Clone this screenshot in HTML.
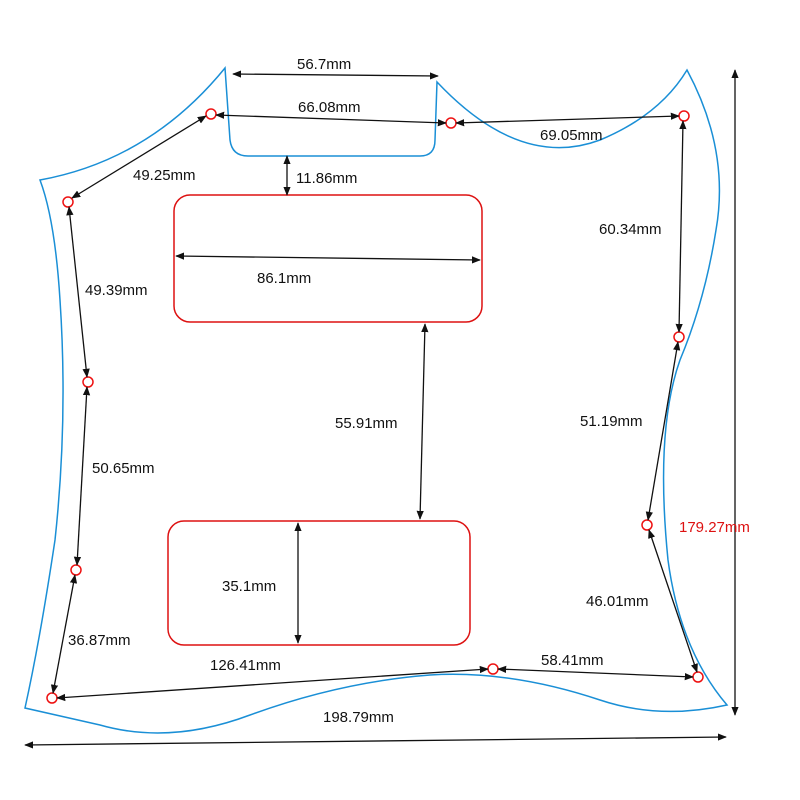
<!DOCTYPE html>
<html><head><meta charset="utf-8"><style>
html,body{margin:0;padding:0;background:#fff;}
svg{display:block;}
text{font-family:"Liberation Sans",Arial,sans-serif;font-size:15px;fill:#111;}
</style></head><body>
<svg width="800" height="800" viewBox="0 0 800 800" xmlns="http://www.w3.org/2000/svg">
<defs>
<marker id="a" viewBox="0 0 10 10" refX="9" refY="5" markerWidth="7" markerHeight="7" orient="auto-start-reverse"><path d="M0,1 L10,5 L0,9 z" fill="#111"/></marker>
</defs>
<path d="M40,180 Q150,160 225,68 L230,140 Q232,156 248,156 L420,156 Q435,156 435,140 L437,82 Q520,170 600,140 Q660,115 687,70 Q730,150 716,230 Q705,300 680,360 Q655,430 668,560 Q680,650 727,705 Q660,720 600,700 Q510,670 430,675 Q340,682 250,715 Q170,745 100,725 L25,708 Q40,640 55,540 Q68,420 60,300 Q55,220 40,180 Z" fill="none" stroke="#1a8fd6" stroke-width="1.5"/>
<rect x="174" y="195" width="308" height="127" rx="16" fill="none" stroke="#d11" stroke-width="1.5"/>
<rect x="168" y="521" width="302" height="124" rx="16" fill="none" stroke="#d11" stroke-width="1.5"/>
<g fill="none" stroke="#e11" stroke-width="1.5">
<circle cx="211" cy="114" r="5"/><circle cx="451" cy="123" r="5"/><circle cx="684" cy="116" r="5"/>
<circle cx="68" cy="202" r="5"/><circle cx="88" cy="382" r="5"/><circle cx="76" cy="570" r="5"/>
<circle cx="52" cy="698" r="5"/><circle cx="679" cy="337" r="5"/><circle cx="647" cy="525" r="5"/>
<circle cx="698" cy="677" r="5"/><circle cx="493" cy="669" r="5"/>
</g>
<g stroke="#111" stroke-width="1.3" marker-start="url(#a)" marker-end="url(#a)" fill="none">
<line x1="233" y1="74" x2="438" y2="76"/>
<line x1="216" y1="115" x2="446" y2="123"/>
<line x1="456" y1="123" x2="679" y2="116"/>
<line x1="72" y1="198" x2="206" y2="116"/>
<line x1="287" y1="156" x2="287" y2="195"/>
<line x1="176" y1="256" x2="480" y2="260"/>
<line x1="69" y1="207" x2="87" y2="377"/>
<line x1="87" y1="387" x2="77" y2="565"/>
<line x1="75" y1="575" x2="53" y2="693"/>
<line x1="425" y1="324" x2="420" y2="519"/>
<line x1="298" y1="523" x2="298" y2="643"/>
<line x1="57" y1="698" x2="488" y2="669"/>
<line x1="498" y1="669" x2="693" y2="677"/>
<line x1="683" y1="121" x2="679" y2="332"/>
<line x1="678" y1="342" x2="648" y2="520"/>
<line x1="649" y1="530" x2="697" y2="672"/>
<line x1="735" y1="70" x2="735" y2="715"/>
<line x1="25" y1="745" x2="726" y2="737"/>
</g>
<text x="297" y="69">56.7mm</text>
<text x="298" y="112">66.08mm</text>
<text x="540" y="140">69.05mm</text>
<text x="133" y="180">49.25mm</text>
<text x="296" y="183">11.86mm</text>
<text x="257" y="283">86.1mm</text>
<text x="85" y="295">49.39mm</text>
<text x="599" y="234">60.34mm</text>
<text x="335" y="428">55.91mm</text>
<text x="580" y="426">51.19mm</text>
<text x="92" y="473">50.65mm</text>
<text x="679" y="532" style="fill:#d11">179.27mm</text>
<text x="222" y="591">35.1mm</text>
<text x="586" y="606">46.01mm</text>
<text x="68" y="645">36.87mm</text>
<text x="210" y="670">126.41mm</text>
<text x="541" y="665">58.41mm</text>
<text x="323" y="722">198.79mm</text>
</svg>
</body></html>
